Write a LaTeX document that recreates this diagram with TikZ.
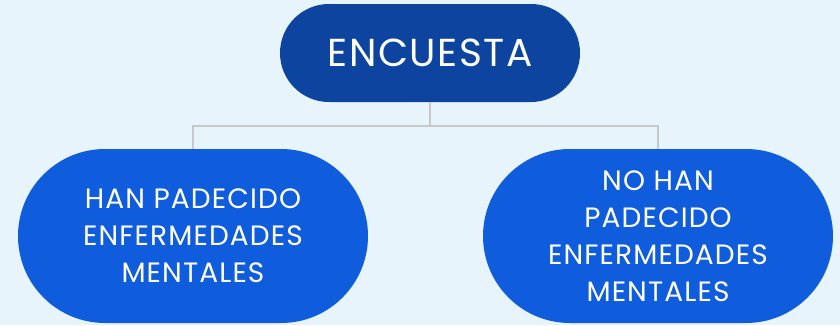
\documentclass[tikz,border=0pt]{standalone}
\usepackage{fontspec}
\setmainfont{Poppins}[LetterSpace=4]
\usepackage{tikz}
\usetikzlibrary{shapes.misc}

\definecolor{bgblue}{HTML}{E8F4FC}
\definecolor{rootblue}{HTML}{0C44A0}
\definecolor{leafblue}{HTML}{0F5DDC}
\definecolor{linegray}{HTML}{C8C8C8}

\tikzset{
  pill/.style = {rounded rectangle, draw=none, text=white, align=center, inner sep=0pt},
  link/.style = {draw=linegray, line width=1.5pt}
}

\begin{document}
\begin{tikzpicture}[x=1pt, y=-1pt]
  \fill[bgblue] (0,0) rectangle (840,325);

  \node[pill, fill=rootblue, minimum width=300pt, minimum height=98pt,
        font=\fontsize{39}{44}\selectfont] (encuesta) at (430,53) {ENCUESTA};

  \node[pill, fill=leafblue, minimum width=350pt, minimum height=174pt,
        font=\fontsize{28}{37}\selectfont] (han) at (193,236)
        {HAN PADECIDO\\ENFERMEDADES\\MENTALES};

  \node[pill, fill=leafblue, minimum width=350pt, minimum height=174pt,
        font=\fontsize{28}{37}\selectfont] (nohan) at (658,236)
        {NO HAN\\PADECIDO\\ENFERMEDADES\\MENTALES};

  \coordinate (split) at (430,126);
    \path[link] (encuesta.south) -- (split);
    \path[link] (han.north) |- (split);
    \path[link] (nohan.north) |- (split);

\end{tikzpicture}
\end{document}
